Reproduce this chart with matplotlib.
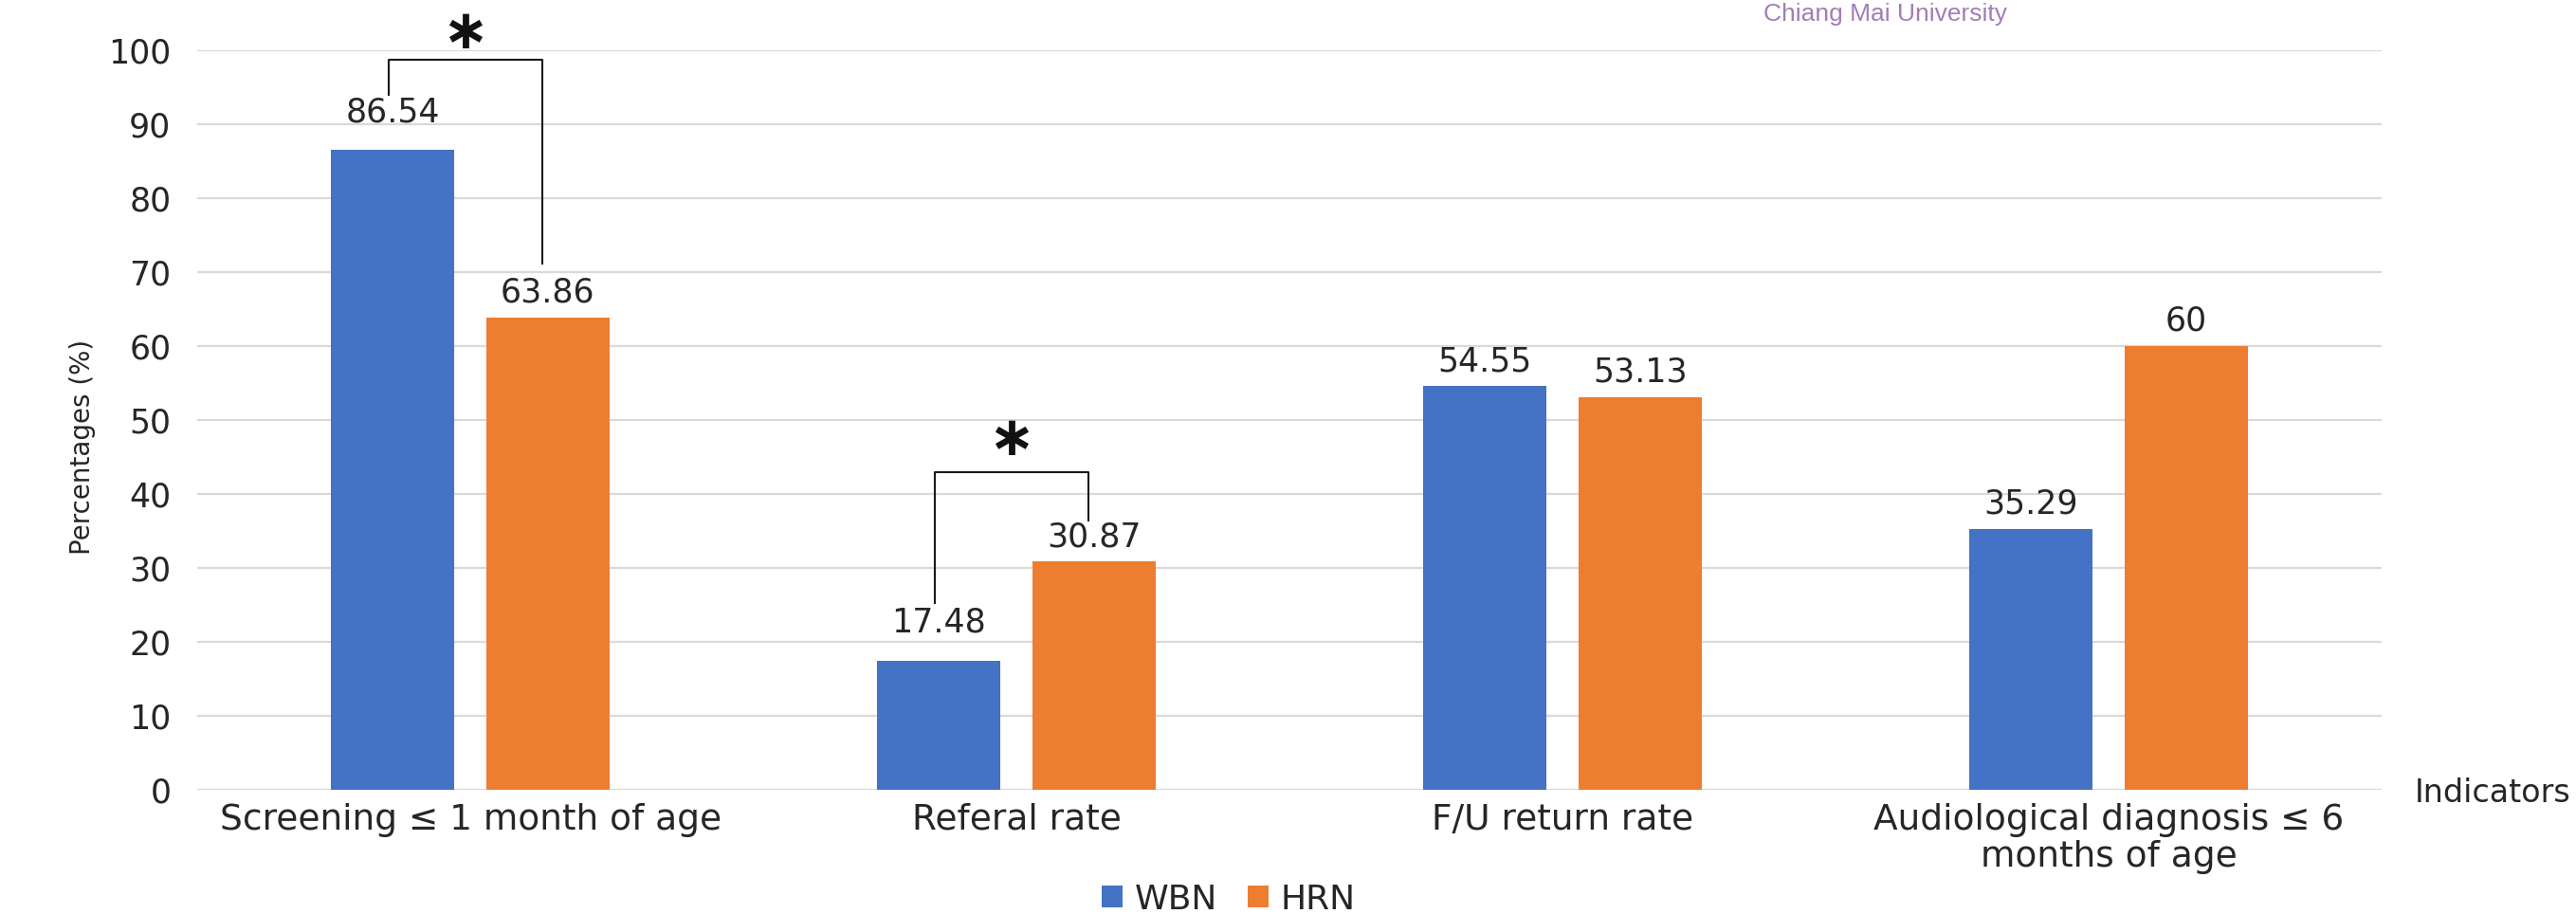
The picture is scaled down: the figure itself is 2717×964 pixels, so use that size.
import matplotlib
matplotlib.use("Agg")
import matplotlib.pyplot as plt
import numpy as np

# data
categories = ["Screening \u2264 1 month of age", "Referal rate", "F/U return rate",
              "Audiological diagnosis \u2264 6\nmonths of age"]
wbn = [86.54, 17.48, 54.55, 35.29]
hrn = [63.86, 30.87, 53.13, 60]
wbn_labels = ["86.54", "17.48", "54.55", "35.29"]
hrn_labels = ["63.86", "30.87", "53.13", "60"]

# significance brackets
sig_idx = [0, 1]
sig_top = [98.7, 42.9]
sig_left_end = [94.0, 25.3]
sig_right_end = [71.2, 36.4]
sig_star = [102.4, 47.4]

plt.rcParams['font.family'] = ['DejaVu Sans']

blue = "#4472C4"
orange = "#ED7D31"
txt = "#262626"

fig = plt.figure(figsize=(27.17, 9.64), dpi=100, facecolor='white')
ax = fig.add_axes([0.0766, 0.136, 0.848, 0.809])

x = np.arange(len(categories))
w = 0.226
off = 0.142
b1 = ax.bar(x - off, wbn, w, color=blue, label="WBN", zorder=3)
b2 = ax.bar(x + off, hrn, w, color=orange, label="HRN", zorder=3)

# value labels (the two WBN labels under the brackets sit higher in the original)
nudge = {("wbn", 0): 21.5, ("wbn", 1): 22}
for name, bars, labs in [("wbn", b1, wbn_labels), ("hrn", b2, hrn_labels)]:
    for i, (b, lab) in enumerate(zip(bars, labs)):
        ax.annotate(lab, (b.get_x() + b.get_width() / 2, b.get_height()),
                    xytext=(0, nudge.get((name, i), 11.5)), textcoords='offset points',
                    ha='center', va='baseline', fontsize=25, color=txt, zorder=5)

ax.set_xlim(-0.5, len(categories) - 0.5)
ax.set_ylim(0, 100)
ax.set_yticks(np.arange(0, 101, 10))
ax.set_xticks(x)
ax.set_xticklabels(categories, fontsize=27, color=txt, linespacing=1.1)
ax.tick_params(axis='y', labelsize=25, labelcolor=txt, length=0, pad=20)
ax.tick_params(axis='x', length=0, pad=10)
ax.grid(axis='y', color="#d9d9d9", linewidth=1.6, zorder=0)
for s in ax.spines.values():
    s.set_visible(False)

# brackets with stars
for i, top, le, re, st in zip(sig_idx, sig_top, sig_left_end, sig_right_end, sig_star):
    xl = i - off - 0.008
    xr = i + off - 0.01
    ax.plot([xl, xl, xr, xr], [le, top, top, re], color="#1a1a1a", linewidth=1.5,
            zorder=4, clip_on=False)
    ax.text((xl + xr) / 2, st, "\u2217", ha='center', va='center', fontsize=42,
            fontweight='bold', color="#111111", clip_on=False)

fig.text(0.032, 0.511, "Percentages (%)", rotation=90, ha='center', va='center',
         fontsize=20, color=txt)
fig.text(0.9375, 0.132, "Indicators", ha='left', va='center', fontsize=24, color=txt)
fig.text(0.732, 0.984, "Chiang Mai University", ha='center', va='center',
         fontsize=19, color="#a27db6", family=['Liberation Sans'])

fig.legend(handles=[b1, b2], labels=["WBN", "HRN"], loc='center', ncol=2,
           bbox_to_anchor=(0.477, 0.016), frameon=False, fontsize=26,
           handlelength=0.6, handleheight=0.6, handletextpad=0.35, columnspacing=0.9,
           labelcolor=txt)

fig.savefig("out.png", dpi=100, facecolor='white')
